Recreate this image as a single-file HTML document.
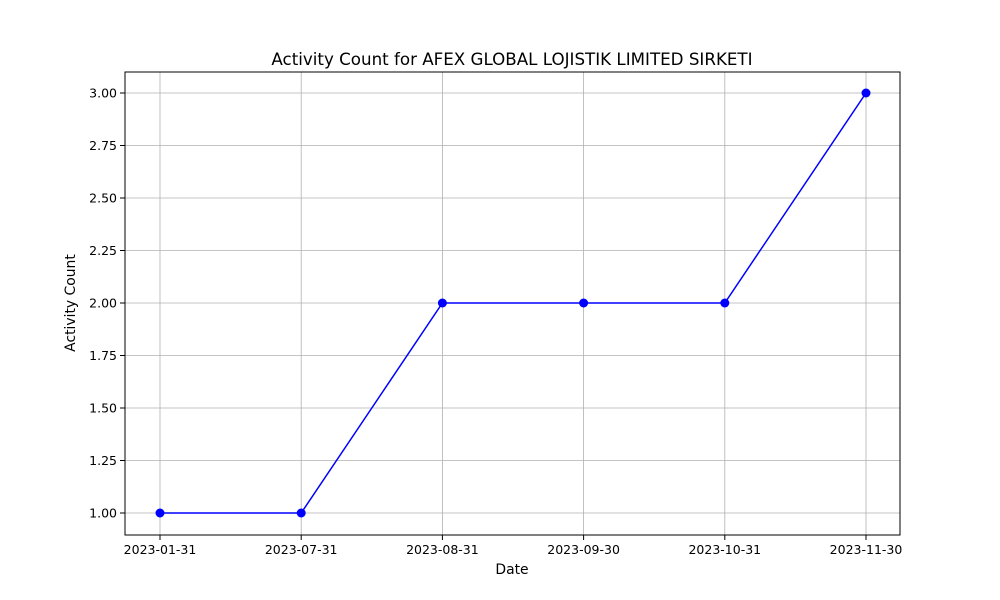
<!DOCTYPE html>
<html><head><meta charset="utf-8"><style>
body{margin:0;background:#fff;}
svg{display:block;font-family:"DejaVu Sans","Liberation Sans",sans-serif;}
</style></head><body>
<svg id="chart" width="1000" height="600">
<rect width="1000" height="600" fill="#fff"/>
<text x="512" y="65" text-anchor="middle" font-size="16.7">Activity Count for AFEX GLOBAL LOJISTIK LIMITED SIRKETI</text>
<g id="grid"></g>
<g id="series"></g>
<rect x="125" y="72" width="775" height="463" fill="none" stroke="#000" stroke-width="1"/>
<g id="axes"></g>
<text x="512" y="574" text-anchor="middle" font-size="13.9">Date</text>
<text x="75" y="303" text-anchor="middle" font-size="13.9" transform="rotate(-90 75 303)">Activity Count</text>
</svg>
<script>
const categories=["2023-01-31","2023-07-31","2023-08-31","2023-09-30","2023-10-31","2023-11-30"];
const counts=[1,1,2,2,2,3];
const yTicks=[1.0,1.25,1.5,1.75,2.0,2.25,2.5,2.75,3.0];
const NS="http://www.w3.org/2000/svg";
const x0=160,x1=866,yMin=1,yMax=3,py0=513,py1=93;
function xs(i){return x0+(x1-x0)*i/(categories.length-1);}
function ys(v){return py0+(py1-py0)*(v-yMin)/(yMax-yMin);}
function mk(t,a,p){const e=document.createElementNS(NS,t);for(const k in a)e.setAttribute(k,a[k]);p.appendChild(e);return e;}
const grid=document.getElementById('grid'),axes=document.getElementById('axes'),ser=document.getElementById('series');
categories.forEach((c,i)=>{
 const x=xs(i);
 const g=mk('line',{x1:x,x2:x,y1:72,y2:535,stroke:'#b0b0b0','stroke-width':0.8},grid);
 
 
 mk('line',{x1:x,x2:x,y1:535,y2:540,stroke:'#000'},axes);
 const t=mk('text',{x:x,y:554,'text-anchor':'middle','font-size':12.5},axes);
 t.textContent=c;
 
 
});
yTicks.forEach(v=>{
 const y=ys(v);
 const g=mk('line',{x1:125,x2:900,y1:y,y2:y,stroke:'#b0b0b0','stroke-width':0.8},grid);
 
 
 mk('line',{x1:120,x2:125,y1:y,y2:y,stroke:'#000'},axes);
 const t=mk('text',{x:117,y:y+4.5,'text-anchor':'end','font-size':12.5},axes);
 t.textContent=v.toFixed(2);
 
 
});
const pl=mk('polyline',{points:counts.map((v,i)=>xs(i)+','+ys(v)).join(' '),fill:'none',stroke:'#0000ff','stroke-width':1.5},ser);


counts.forEach((v,i)=>{
 const c=mk('circle',{cx:xs(i),cy:ys(v),r:4.5,fill:'#0000ff'},ser);
 
 
});
</script>
</body></html>
